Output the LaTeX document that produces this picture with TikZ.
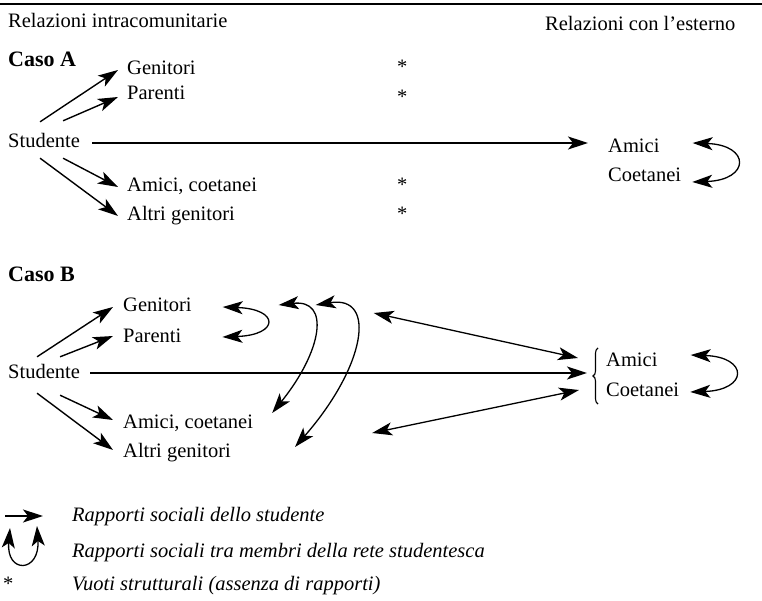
\documentclass[tikz,border=0pt]{standalone}
\usepackage{fontspec}
\setmainfont{Liberation Serif}
\usetikzlibrary{arrows.meta,decorations.pathreplacing,calc}
\begin{document}
\begin{tikzpicture}[x=1pt,y=-1pt,
  lbl/.style={anchor=base west, inner sep=0pt, font=\fontsize{20.5}{24}\selectfont, text height=14pt, text depth=4pt},
  hd/.style={lbl, font=\fontsize{22}{26}\selectfont\bfseries},
  lg/.style={lbl, font=\fontsize{20.5}{24}\selectfont\itshape},
  ar/.style={line width=1.4pt, -{Stealth[length=20pt,width=13pt,inset=5pt]}},
  dar/.style={line width=1.3pt, {Stealth[length=20pt,width=13pt,inset=5pt]}-{Stealth[length=20pt,width=13pt,inset=5pt]}},
  brc/.style={line width=1.1pt, decorate, decoration={brace, amplitude=5pt}}]
\useasboundingbox (0,0) rectangle (762,601);
\draw[line width=1.3pt] (0,4) -- (762,4);
% headers
\node[lbl] (relI) at (8,28) {Relazioni intracomunitarie};
\node[lbl] (relE) at (545,31) {Relazioni con l’esterno};
% ---------- Caso A
\node[hd] (casoA) at (8,67) {Caso A};
\node[lbl] (gA) at (127,75) {Genitori};
\node[lbl] (pA) at (127,100) {Parenti};
\node[lbl] (sA) at (8,148) {Studente};
\node[lbl] (aA) at (127,192) {Amici, coetanei};
\node[lbl] (agA) at (127,221) {Altri genitori};
\node[lbl] (amA) at (608,153) {Amici};
\node[lbl] (coA) at (608,182) {Coetanei};
\node[lbl] (st1) at (397,74) {*};
\node[lbl] (st2) at (397,104) {*};
\node[lbl] (st3) at (397,192) {*};
\node[lbl] (st4) at (397,221) {*};
\draw[ar] ([shift={(-4,-12)}]sA.north) -- ([xshift=-9pt]gA.west);
\draw[ar] ([shift={(19,-13)}]sA.north) -- ([shift={(-9,2)}]pA.west);
\draw[ar] ([shift={(19,6)}]sA.south) -- ([xshift=-9pt]aA.west);
\draw[ar] ([shift={(-4,6)}]sA.south) -- ([xshift=-9pt]agA.west);
\draw[ar] ([xshift=12pt]sA.east) -- ($(sA.east -| amA.west)+(-20,0)$);
\draw[dar] ([shift={(33,-5)}]amA.east) .. controls +(58,2) and +(58,-2) .. ([shift={(11,5)}]coA.east);
% ---------- Caso B
\node[hd] (casoB) at (8,282) {Caso B};
\node[lbl] (gB) at (123,312) {Genitori};
\node[lbl] (pB) at (123,342) {Parenti};
\node[lbl] (sB) at (8,378) {Studente};
\node[lbl] (aB) at (123,428) {Amici, coetanei};
\node[lbl] (agB) at (123,457) {Altri genitori};
\node[lbl] (amB) at (606,366) {Amici};
\node[lbl] (coB) at (606,396) {Coetanei};
\draw[ar] ([shift={(-7,-7)}]sB.north) -- ([xshift=-10pt]gB.west);
\draw[ar] ([shift={(16,-7)}]sB.north) -- ([shift={(-10,-1)}]pB.west);
\draw[ar] ([shift={(16,13)}]sB.south) -- ([shift={(-10,-3)}]aB.west);
\draw[ar] ([shift={(-7,11)}]sB.south) -- ([shift={(-10,-2)}]agB.west);
\draw[ar] ([xshift=10pt]sB.east) -- ($(sB.east -| amB.west)+(-19,0)$);
\draw[dar] ([shift={(31,0)}]gB.east) .. controls +(57,2) and +(57,-2) .. ([shift={(41,0)}]pB.east);
\draw[dar] ([shift={(87,-2)}]gB.east) .. controls +(52,-6) and +(50,-62) .. ([shift={(19,-10)}]aB.east);
\draw[dar] ([shift={(124,-2)}]gB.east) .. controls +(62,-10) and +(70,-80) .. ([shift={(64,-5)}]agB.east);
\draw[dar] ([shift={(182,6)}]gB.east) -- ([shift={(-28,-3)}]amB.west);
\draw[dar] ([shift={(119,10)}]aB.east) -- ([shift={(-27,-1)}]coB.west);
\draw[brc] ($(amB.west |- coB.base)+(-8,8)$) -- ($(amB.west |- amB.base)+(-8,-18)$);
\draw[dar] ([shift={(33,-6)}]amB.east) .. controls +(58,2) and +(58,-2) .. ([shift={(11,1)}]coB.east);
% ---------- Legenda
\node[lg] (L1) at (72,521) {Rapporti sociali dello studente};
\node[lg] (L2) at (72,557) {Rapporti sociali tra membri della rete studentesca};
\node[lg] (L3) at (72,590) {Vuoti strutturali (assenza di rapporti)};
\node[lbl] (st5) at (3,590) {*};
\draw[ar] ([xshift=-67pt]L1.west) -- ([xshift=-29pt]L1.west);
\draw[dar] ([shift={(-62,-24)}]L2.west) .. controls +(-4,46) and +(3,47) .. ([shift={(-35,-26)}]L2.west);
\end{tikzpicture}
\end{document}
